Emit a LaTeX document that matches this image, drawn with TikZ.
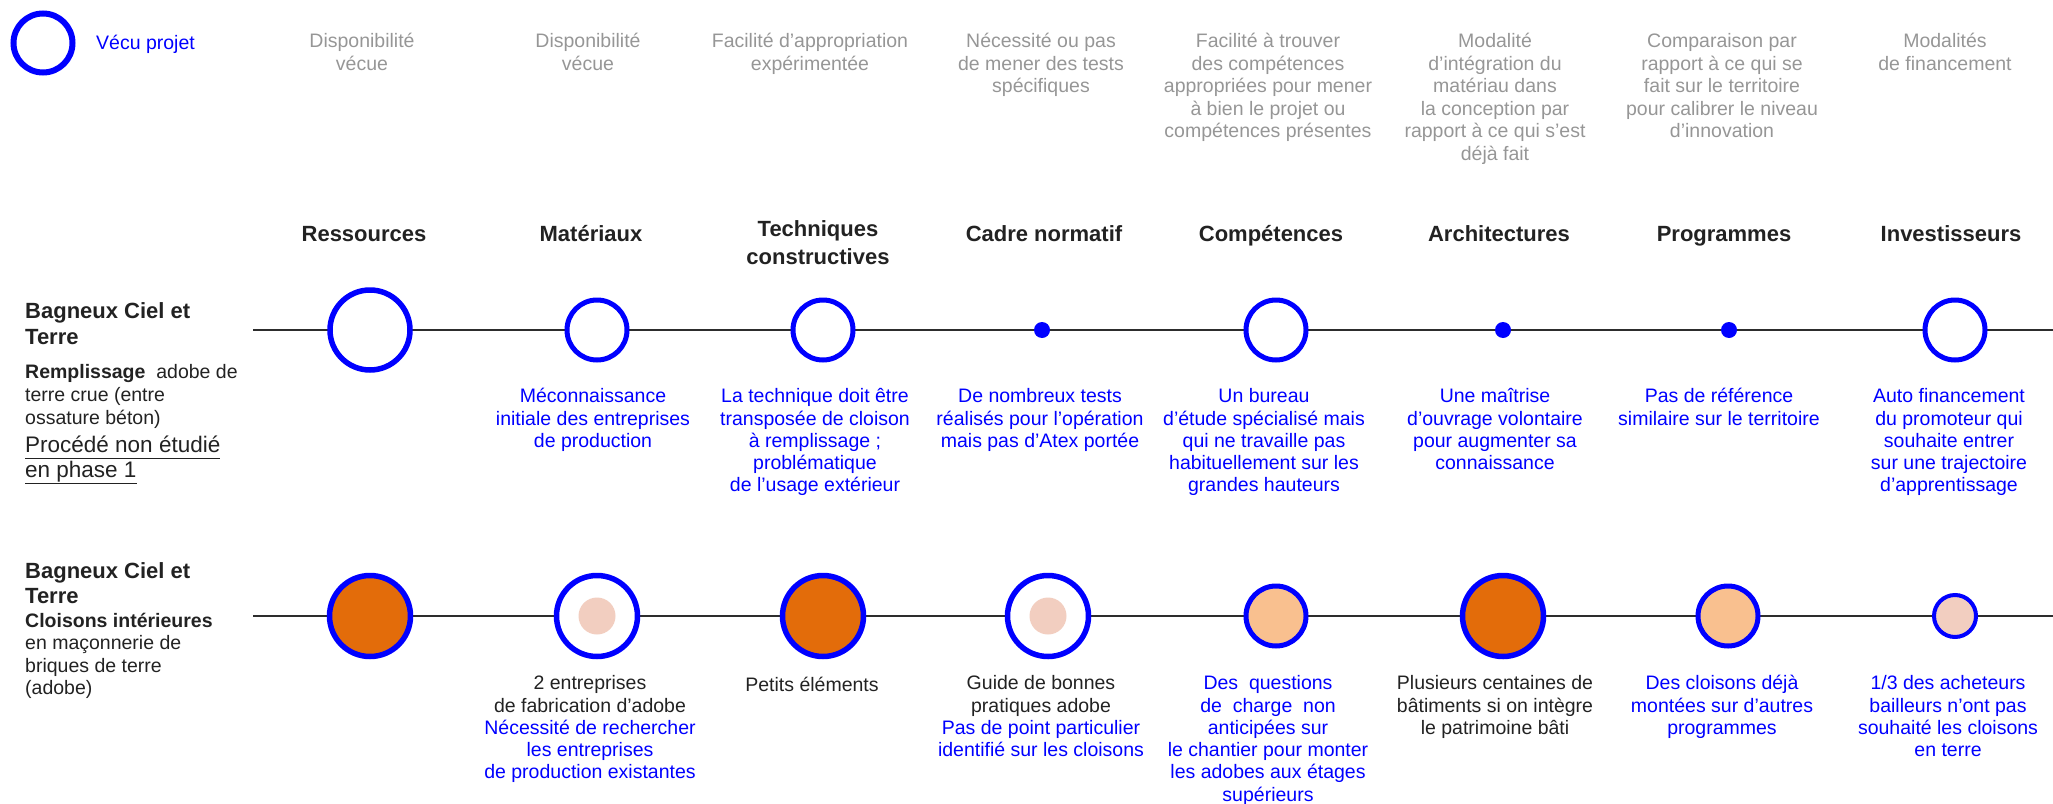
\documentclass[tikz,border=0pt]{standalone}
\usepackage{fontspec}
\setmainfont{Liberation Sans}

\definecolor{vblue}{RGB}{0,0,255}
\definecolor{ink}{RGB}{34,34,34}
\definecolor{greytxt}{RGB}{150,150,150}
\definecolor{railclr}{RGB}{45,45,45}
\definecolor{orangeA}{RGB}{227,108,10}
\definecolor{orangeB}{RGB}{249,192,143}
\definecolor{pinkC}{RGB}{242,206,192}

\newcommand{\undr}[1]{\underline{#1\vphantom{p}}}

% text nodes: the given point is the baseline of the first line
\tikzset{
  txt/.style={inner sep=0pt, execute at begin node=\strut},
  crit/.style={txt, font=\fontsize{19.5}{22.5}\selectfont, text=greytxt, align=center, anchor=north, yshift=15.75pt},
  coltitle/.style={txt, font=\bfseries\fontsize{22}{28}\selectfont, text=ink, align=center, anchor=north, yshift=19.6pt},
  note/.style={txt, font=\fontsize{19.5}{22.3}\selectfont, text=vblue, align=center, anchor=north, yshift=15.61pt},
  fact/.style={note, text=ink},
  rowtitle/.style={txt, font=\bfseries\fontsize{22}{26}\selectfont, text=ink, align=left, anchor=north west, yshift=18.2pt},
  rowtext/.style={txt, font=\fontsize{19.5}{23}\selectfont, text=ink, align=left, anchor=north west, yshift=16.1pt},
  warn/.style={txt, font=\fontsize{22.5}{25}\selectfont, text=ink, align=left, anchor=north west, yshift=17.5pt},
  ring/.style={circle, draw=vblue, line width=5.5pt, inner sep=0pt, fill=white},
  ringbig/.style={ring, minimum size=81pt},
  ringmid/.style={ring, line width=5pt, minimum size=60pt},
  vdot/.style={circle, fill=vblue, inner sep=0pt, minimum size=16pt},
  pinkdot/.style={circle, fill=pinkC, inner sep=0pt, minimum size=37pt},
  rail/.style={draw=railclr, line width=2.8pt},
}

\begin{document}
\begin{tikzpicture}[x=1pt, y=-1pt]
  \useasboundingbox (0,0) rectangle (2053,803);

  % legend
  \node[ring, line width=6pt, minimum size=59pt] (key) at (43,43) {};
  \node[note, anchor=north west] (keytxt) at (96,49) {Vécu projet};

  % criteria
  \node[crit] (crit1) at (362,49) {Disponibilité\\vécue};
  \node[crit] (crit2) at (588,49) {Disponibilité\\vécue};
  \node[crit] (crit3) at (810,49) {Facilité d’appropriation\\expérimentée};
  \node[crit] (crit4) at (1041,49) {Nécessité ou pas\\de mener des tests\\spécifiques};
  \node[crit] (crit5) at (1268,49) {Facilité à trouver\\des compétences\\appropriées pour mener\\à bien le projet ou\\compétences présentes};
  \node[crit] (crit6) at (1495,49) {Modalité\\d’intégration du\\matériau dans\\la conception par\\rapport à ce qui s’est\\déjà fait};
  \node[crit] (crit7) at (1722,49) {Comparaison par\\rapport à ce qui se\\fait sur le territoire\\pour calibrer le niveau\\d’innovation};
  \node[crit] (crit8) at (1945,49) {Modalités\\de financement};

  % column titles
  \node[coltitle] (col1) at (364,241) {Ressources};
  \node[coltitle] (col2) at (591,241) {Matériaux};
  \node[coltitle] (col3) at (818,240) {Techniques\\constructives};
  \node[coltitle] (col4) at (1044,241) {Cadre normatif};
  \node[coltitle] (col5) at (1271,241) {Compétences};
  \node[coltitle] (col6) at (1499,241) {Architectures};
  \node[coltitle] (col7) at (1724,241) {Programmes};
  \node[coltitle] (col8) at (1951,241) {Investisseurs};

  % first project
  \node[rowtitle] (titleA) at (25,321) {Bagneux Ciel et\\Terre};
  \node[rowtext] (descA) at (25,380) {\textbf{Remplissage}~ adobe de\\terre crue (entre\\ossature béton)};
  \node[warn] (warnA) at (25,453) {\undr{Procédé non étudié}\\\undr{en phase 1}};

  \coordinate (railAs) at (253,330);
  \coordinate (railAe) at (2053,330);
  \draw[rail] (railAs) -- (railAe);

  \node[ringbig, minimum size=80pt] (a1) at (370,330) {};
  \node[ringmid] (a2) at (597,330) {};
  \node[ringmid] (a3) at (823,330) {};
  \node[vdot] (a4) at (1042,330) {};
  \node[ringmid] (a5) at (1276,330) {};
  \node[vdot] (a6) at (1503,330) {};
  \node[vdot] (a7) at (1729,330) {};
  \node[ringmid] (a8) at (1955,330) {};

  \node[note] (na2) at (593,404) {Méconnaissance\\initiale des entreprises\\de production};
  \node[note] (na3) at (815,404) {La technique doit être\\transposée de cloison\\à remplissage ;\\problématique\\de l’usage extérieur};
  \node[note] (na4) at (1040,404) {De nombreux tests\\réalisés pour l’opération\\mais pas d’Atex portée};
  \node[note] (na5) at (1264,404) {Un bureau\\d’étude spécialisé mais\\qui ne travaille pas\\habituellement sur les\\grandes hauteurs};
  \node[note] (na6) at (1495,404) {Une maîtrise\\d’ouvrage volontaire\\pour augmenter sa\\connaissance};
  \node[note] (na7) at (1719,404) {Pas de référence\\similaire sur le territoire};
  \node[note] (na8) at (1949,404) {Auto financement\\du promoteur qui\\souhaite entrer\\sur une trajectoire\\d’apprentissage};

  % second project
  \node[rowtitle, font=\bfseries\fontsize{22}{25}\selectfont] (titleB) at (25,581) {Bagneux Ciel et\\Terre};
  \node[rowtext, font=\fontsize{19.5}{22.3}\selectfont] (descB) at (25,629) {\textbf{Cloisons intérieures}\\en maçonnerie de\\briques de terre\\(adobe)};

  \coordinate (railBs) at (253,616);
  \coordinate (railBe) at (2053,616);
  \draw[rail] (railBs) -- (railBe);

  \node[ringbig, fill=orangeA] (b1) at (370,616) {};
  \node[ringbig] (b2) at (597,616) {};
  \node[pinkdot] (b2in) at (b2) {};
  \node[ringbig, fill=orangeA] (b3) at (823,616) {};
  \node[ringbig] (b4) at (1048,616) {};
  \node[pinkdot] (b4in) at (b4) {};
  \node[ringmid, fill=orangeB] (b5) at (1276,616) {};
  \node[ringbig, fill=orangeA] (b6) at (1503,616) {};
  \node[ringmid, fill=orangeB] (b7) at (1728,616) {};
  \node[ring, line width=4pt, minimum size=42pt, fill=pinkC] (b8) at (1955,616) {};

  \node[note] (nb2) at (590,691) {\textcolor{ink}{2 entreprises}\\\textcolor{ink}{de fabrication d’adobe}\\Nécessité de rechercher\\les entreprises\\de production existantes};
  \node[fact] (nb3) at (812,691) {Petits éléments};
  \node[note] (nb4) at (1041,691) {\textcolor{ink}{Guide de bonnes}\\\textcolor{ink}{pratiques adobe}\\Pas de point particulier\\identifié sur les cloisons};
  \node[note] (nb5) at (1268,691) {Des~ questions\\de~ charge~ non\\anticipées sur\\le chantier pour monter\\les adobes aux étages\\supérieurs};
  \node[fact] (nb6) at (1495,691) {Plusieurs centaines de\\bâtiments si on intègre\\le patrimoine bâti};
  \node[note] (nb7) at (1722,691) {Des cloisons déjà\\montées sur d’autres\\programmes};
  \node[note] (nb8) at (1948,691) {1/3 des acheteurs\\bailleurs n’ont pas\\souhaité les cloisons\\en terre};

\end{tikzpicture}
\end{document}
